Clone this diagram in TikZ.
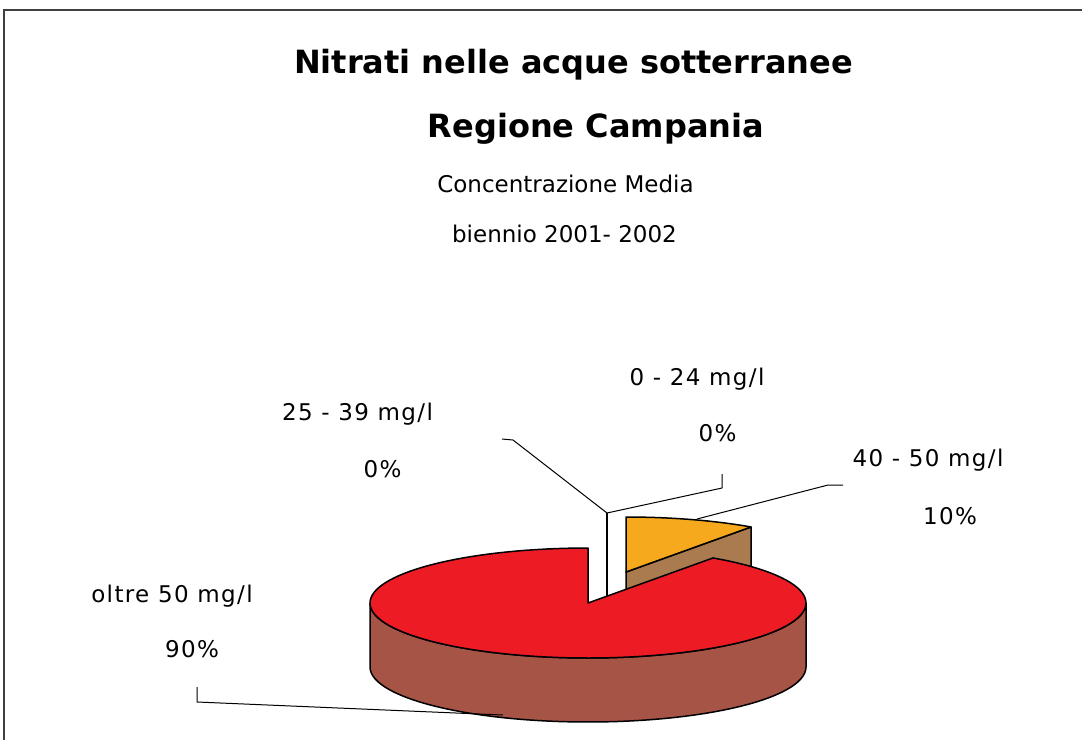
\documentclass[tikz,border=0pt]{standalone}
\usepackage{fontspec}
\setmainfont{DejaVu Sans}
\newfontfamily\spaziato[LetterSpace=6]{DejaVu Sans}
\usepackage{xcolor}
\definecolor{rossotop}{HTML}{ED1C24}
\definecolor{rossolato}{HTML}{A65446}
\definecolor{aranciotop}{HTML}{F7A91D}
\definecolor{arenalato}{HTML}{A97B4E}

\begin{document}
\begin{tikzpicture}[x=1pt,y=-1pt,line join=round,
    titolo/.style={anchor=base,font=\fontsize{32}{36}\selectfont\bfseries},
    testo/.style={anchor=base,font=\fontsize{23}{27}\selectfont},
    voce/.style={anchor=base,font=\spaziato\fontsize{23}{27}\selectfont},
    guida/.style={black,line width=1pt},
    fetta/.style={draw=black,line width=1.5pt}]
    \useasboundingbox (0,0) rectangle (1082,740);
    \fill[white] (0,0) rectangle (1082,740);
    \draw[black!75,line width=1.2pt] (3,10) -- (1082,10);
    \draw[black!75,line width=1.2pt] (4,10) -- (4,740);

    % titoli
    \node[titolo] (T) at (573.5,73) {Nitrati nelle acque sotterranee};
    \node[titolo] (R) at (596,137) {Regione Campania};
    \node[testo] (C) at (565.5,192) {Concentrazione Media};
    \node[testo] (B) at (564.5,242) {biennio 2001- 2002};

    % torta: raggi e spessore
    \def\rx{218}
    \def\ry{55}
    \def\sp{64}
    \coordinate (O) at (626,572);   % fetta 10% estratta
    \coordinate (M) at (588,603);   % fetta 90%
    \coordinate (Z) at (607,513);   % fette 0%

    \filldraw[fetta,fill=arenalato] (O) -- (751,527) -- (751,527+\sp) -- (626,572+\sp) -- cycle;
    \filldraw[fetta,fill=aranciotop] (O) -- plot[domain=-90:-55,samples=20]
        ({626+\rx*cos(\x)},{572+\ry*sin(\x)}) -- cycle;
    \draw[fetta] (Z) -- (607,600);
    \filldraw[fetta,fill=rossolato] plot[domain=0:180,samples=60]
        ({588+\rx*cos(\x)},{603+\ry*sin(\x)}) -- plot[domain=180:0,samples=60]
        ({588+\rx*cos(\x)},{603+\sp+\ry*sin(\x)}) -- cycle;
    \filldraw[fetta,fill=rossotop] (M) -- plot[domain=-55:270,samples=120]
        ({588+\rx*cos(\x)},{603+\ry*sin(\x)}) -- cycle;

    % etichette
    \node[voce] (A1) at (697,385) {0 - 24 mg/l};
    \node[voce] (A2) at (717.5,441) {0\%};
    \node[voce] (B1) at (357.5,420) {25 - 39 mg/l};
    \node[voce] (B2) at (382.5,477) {0\%};
    \node[voce] (C1) at (928,466) {40 - 50 mg/l};
    \node[voce] (C2) at (950,524) {10\%};
    \node[voce] (D1) at (172,602) {oltre 50 mg/l};
    \node[voce] (D2) at (192,657) {90\%};

    % linee guida
    \coordinate (a1) at (502,439);
    \coordinate (a2) at (513,440);
    \coordinate (b1) at (722,474);
    \coordinate (b2) at (722,488);
    \coordinate (c1) at (843,485);
    \coordinate (c2) at (828,485);
    \coordinate (c3) at (697,519);
    \coordinate (d1) at (197,687);
    \coordinate (d2) at (197,702);
    \coordinate (d3) at (503,715);
    \draw[guida] (a1) -- (a2) -- (Z);
    \draw[guida] (b1) -- (b2) -- (Z);
    \draw[guida] (c1) -- (c2) -- (c3);
    \draw[guida] (d1) -- (d2) -- (d3);
\end{tikzpicture}
\end{document}
